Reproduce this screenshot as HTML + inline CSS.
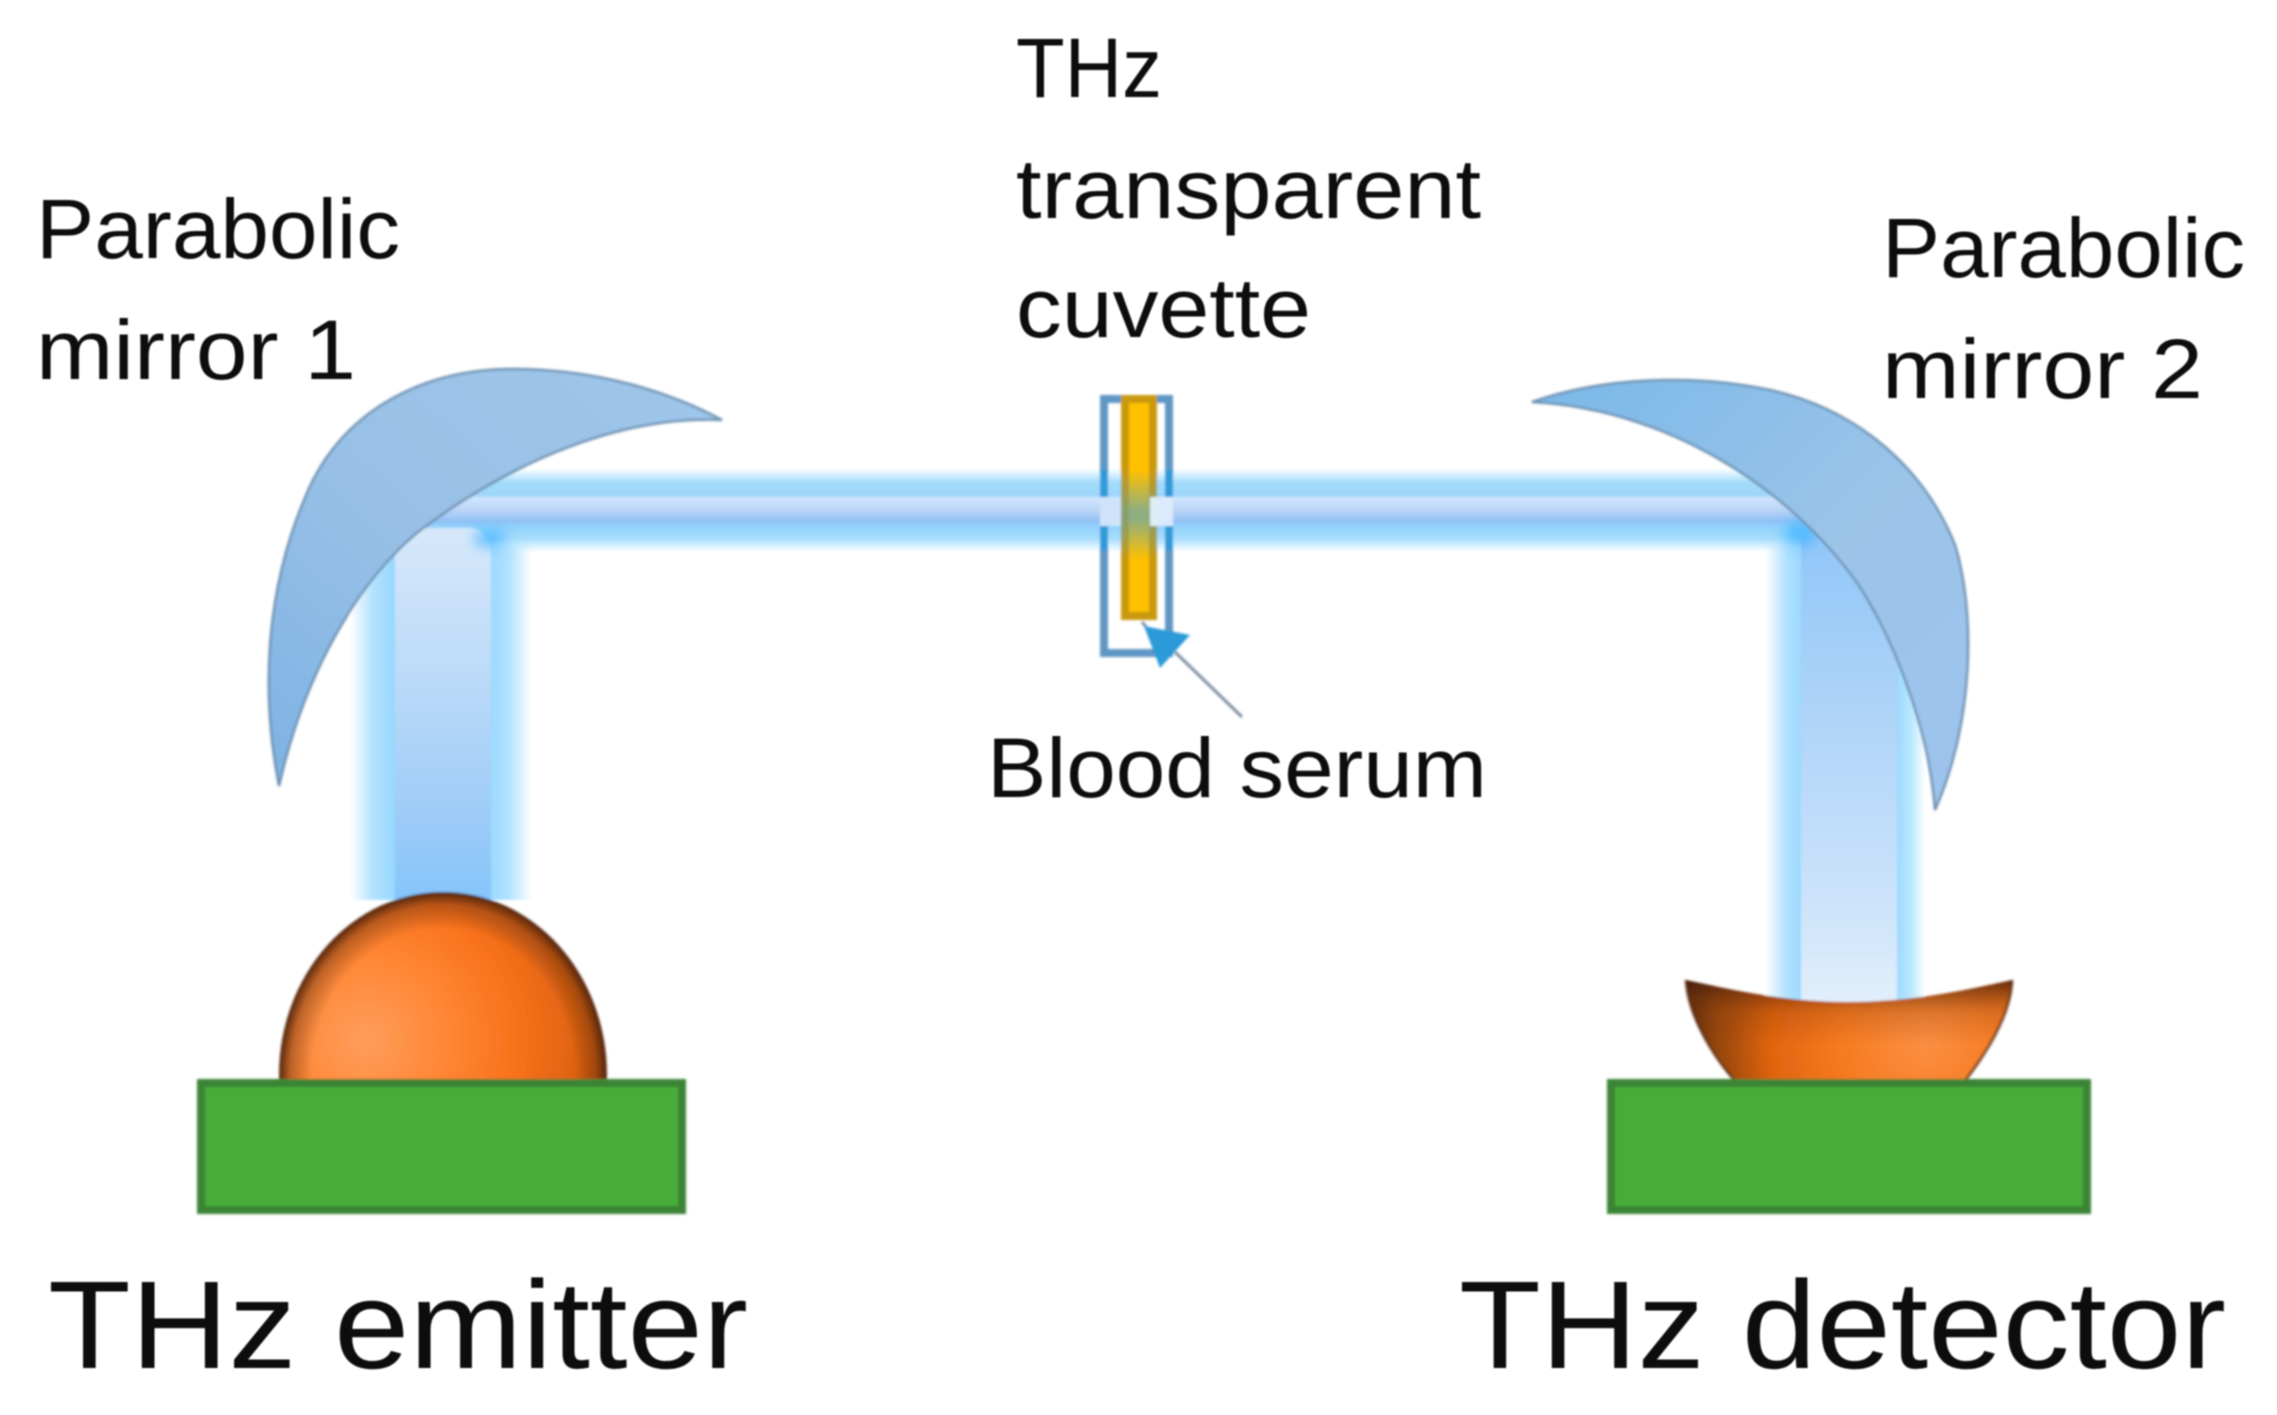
<!DOCTYPE html>
<html>
<head>
<meta charset="utf-8">
<style>
html,body{margin:0;padding:0;background:#fff;width:2277px;height:1415px;overflow:hidden}
svg{display:block}
text{font-family:"Liberation Sans",sans-serif;fill:#0e0e0e}
</style>
</head>
<body>
<svg width="2277" height="1415" viewBox="0 0 2277 1415" xmlns="http://www.w3.org/2000/svg">
<defs>
<filter id="soft" x="-5%" y="-5%" width="110%" height="110%"><feGaussianBlur stdDeviation="1.2"/></filter>
<filter id="softT" x="-5%" y="-20%" width="110%" height="140%"><feGaussianBlur stdDeviation="0.9"/></filter>
<filter id="glow" x="-100%" y="-100%" width="300%" height="300%"><feGaussianBlur stdDeviation="7"/></filter>
<linearGradient id="hb" x1="0" y1="468" x2="0" y2="552" gradientUnits="userSpaceOnUse">
<stop offset="0" stop-color="#bfe8ff" stop-opacity="0"/><stop offset=".1" stop-color="#bfe8ff" stop-opacity=".8"/><stop offset=".17" stop-color="#a3dbfb"/>
<stop offset=".34" stop-color="#9dd6fb"/><stop offset=".345" stop-color="#cfe7fc"/><stop offset=".5" stop-color="#bcd5f8"/>
<stop offset=".64" stop-color="#8fc0f4"/><stop offset=".68" stop-color="#8ed0fb"/><stop offset=".85" stop-color="#a9defd"/>
<stop offset=".93" stop-color="#bfe8ff" stop-opacity=".6"/><stop offset="1" stop-color="#bfe8ff" stop-opacity="0"/>
</linearGradient>
<linearGradient id="lvo" x1="350" y1="0" x2="532" y2="0" gradientUnits="userSpaceOnUse">
<stop offset="0" stop-color="#fff"/><stop offset=".12" stop-color="#b5e3ff"/><stop offset=".24" stop-color="#98d8ff"/>
<stop offset=".76" stop-color="#98d8ff"/><stop offset=".88" stop-color="#b5e3ff"/><stop offset="1" stop-color="#fff"/>
</linearGradient>
<linearGradient id="lvi" x1="0" y1="530" x2="0" y2="895" gradientUnits="userSpaceOnUse">
<stop offset="0" stop-color="#d6e8fa"/><stop offset=".4" stop-color="#bcdaf8"/><stop offset=".8" stop-color="#9ccbf8"/><stop offset="1" stop-color="#86c5fa"/>
</linearGradient>
<linearGradient id="rvo" x1="1765" y1="0" x2="1925" y2="0" gradientUnits="userSpaceOnUse">
<stop offset="0" stop-color="#fff"/><stop offset=".14" stop-color="#aee0ff"/><stop offset=".24" stop-color="#9ad8ff"/>
<stop offset=".82" stop-color="#9ad8ff"/><stop offset=".92" stop-color="#bce9ff"/><stop offset="1" stop-color="#fff"/>
</linearGradient>
<linearGradient id="rvi" x1="0" y1="530" x2="0" y2="1005" gradientUnits="userSpaceOnUse">
<stop offset="0" stop-color="#8fc6f8"/><stop offset=".4" stop-color="#b0d4f8"/><stop offset=".8" stop-color="#cde4fa"/><stop offset="1" stop-color="#e2effc"/>
</linearGradient>
<linearGradient id="m1" x1="0" y1="1" x2="1" y2="0">
<stop offset="0" stop-color="#7db2e4"/><stop offset=".45" stop-color="#98c0e6"/><stop offset="1" stop-color="#9fc6ea"/>
</linearGradient>
<linearGradient id="m2" x1="0" y1="0" x2="1" y2="1">
<stop offset="0" stop-color="#7ab8e8"/><stop offset=".55" stop-color="#9cc4e9"/><stop offset="1" stop-color="#9dc3ee"/>
</linearGradient>
<radialGradient id="sph" gradientUnits="userSpaceOnUse" cx="365" cy="1040" r="270">
<stop offset="0" stop-color="#ff9d5c"/><stop offset=".3" stop-color="#ff8735"/><stop offset=".55" stop-color="#f9721c"/>
<stop offset=".8" stop-color="#dd6210"/><stop offset="1" stop-color="#b04a08"/>
</radialGradient>
<radialGradient id="rim" cx=".5" cy=".5" r=".5">
<stop offset=".8" stop-color="#4a2008" stop-opacity="0"/><stop offset=".93" stop-color="#5a2a10" stop-opacity=".4"/><stop offset="1" stop-color="#4a2008" stop-opacity=".95"/>
</radialGradient>
<radialGradient id="det" gradientUnits="userSpaceOnUse" cx="1925" cy="1040" r="250">
<stop offset="0" stop-color="#fb8f42"/><stop offset=".35" stop-color="#f67a20"/><stop offset=".62" stop-color="#e0640f"/>
<stop offset=".85" stop-color="#8e430c"/><stop offset="1" stop-color="#3a1a08"/>
</radialGradient>
<linearGradient id="detT" x1="0" y1="980" x2="0" y2="1045" gradientUnits="userSpaceOnUse">
<stop offset="0" stop-color="#4a2008" stop-opacity=".85"/><stop offset=".5" stop-color="#8a3d0e" stop-opacity=".25"/><stop offset="1" stop-color="#8a3d0e" stop-opacity="0"/>
</linearGradient>
<linearGradient id="ser" x1="0" y1="470" x2="0" y2="560" gradientUnits="userSpaceOnUse">
<stop offset="0" stop-color="#ffc000"/><stop offset=".45" stop-color="#8fae80"/><stop offset=".55" stop-color="#8fae80"/><stop offset="1" stop-color="#ffc000"/>
</linearGradient>
<linearGradient id="serS" x1="0" y1="470" x2="0" y2="560" gradientUnits="userSpaceOnUse">
<stop offset="0" stop-color="#c99a10"/><stop offset=".45" stop-color="#88a070"/><stop offset=".55" stop-color="#88a070"/><stop offset="1" stop-color="#c99a10"/>
</linearGradient>
<clipPath id="above"><rect x="0" y="0" width="2277" height="1082"/></clipPath>
</defs>

<g filter="url(#soft)">
<!-- vertical beams -->
<rect x="350" y="505" width="182" height="395" fill="url(#lvo)"/>
<rect x="1765" y="505" width="160" height="505" fill="url(#rvo)"/>
<!-- horizontal beam -->
<rect x="400" y="468" width="1420" height="84" fill="url(#hb)"/>
<!-- inner cores -->
<path d="M395 548 Q395 528 420 528 L470 528 Q491 530 491 556 L491 900 L395 900 Z" fill="url(#lvi)"/>
<path d="M1801 526 L1897 526 L1897 1006 L1801 1006 Z" fill="url(#rvi)"/>
<ellipse cx="490" cy="538" rx="16" ry="8" fill="#4db8ff" filter="url(#glow)"/>
<ellipse cx="1800" cy="534" rx="16" ry="12" fill="#4db8ff" filter="url(#glow)"/>

<!-- mirrors -->
<path d="M279 786 C262 700 262 590 311 484 C350 405 430 368 516 369 C600 370 670 392 722 420 C610 415 500 470 418 532 C360 580 305 670 279 786 Z" fill="url(#m1)" stroke="#6f93b3" stroke-width="2.5"/>
<path d="M1532 402 C1600 378 1690 373 1770 390 C1860 410 1925 470 1955 545 C1975 610 1975 720 1935 810 C1930 740 1900 650 1860 587 C1800 500 1680 410 1532 402 Z" fill="url(#m2)" stroke="#6f93b3" stroke-width="2.5"/>

<!-- cuvette -->
<path d="M1104 497 L1104 399 L1169 399 L1169 497 M1169 526 L1169 653 L1104 653 L1104 526" fill="none" stroke="#5f97c4" stroke-width="8"/>
<path d="M1100 470 H1108 V497 H1100 Z M1165 470 H1173 V497 H1165 Z M1100 526 H1108 V550 H1100 Z M1165 526 H1173 V550 H1165 Z" fill="#2d9ad8"/>
<rect x="1100" y="497" width="21" height="29" fill="#cfe4fa"/>
<rect x="1157" y="497" width="16" height="29" fill="#dcebfb"/>
<rect x="1125" y="399" width="28" height="217" fill="url(#ser)" stroke="url(#serS)" stroke-width="8"/>
<rect x="1150" y="497" width="8" height="29" fill="#dfeef2"/>

<!-- arrow -->
<line x1="1242" y1="717" x2="1175" y2="652" stroke="#7f8f9f" stroke-width="3"/>
<line x1="1142" y1="622" x2="1152" y2="634" stroke="#7f8f9f" stroke-width="3"/>
<polygon points="1144,626 1190,635 1160,668" fill="#2a9ad8"/>

<!-- emitter -->
<g clip-path="url(#above)">
<ellipse cx="443" cy="1075" rx="163" ry="182" fill="url(#sph)"/>
<ellipse cx="443" cy="1075" rx="164" ry="183" fill="url(#rim)"/>
</g>
<!-- detector -->
<path d="M1686 980 C1725 988 1780 1002 1848 1002 C1916 1002 1975 988 2012 980 C2011 1015 1985 1055 1964 1082 L1736 1082 C1712 1055 1688 1015 1686 980 Z" fill="url(#det)"/>
<path d="M1686 980 C1725 988 1780 1002 1848 1002 C1916 1002 1975 988 2012 980 C2011 1015 1985 1055 1964 1082 L1736 1082 C1712 1055 1688 1015 1686 980 Z" fill="url(#detT)"/>
<path d="M1686 980 C1688 1015 1712 1055 1736 1082 M2012 980 C2011 1015 1985 1055 1964 1082" fill="none" stroke="#5a2a10" stroke-width="3" opacity=".75"/>

<!-- bases -->
<rect x="201" y="1083" width="481" height="127" fill="#47ad39" stroke="#3b8434" stroke-width="8"/>
<rect x="1611" y="1083" width="476" height="127" fill="#47ad39" stroke="#3b8434" stroke-width="8"/>
</g>

<g filter="url(#softT)">
<text x="36" y="258" font-size="84" textLength="364" lengthAdjust="spacingAndGlyphs">Parabolic</text>
<text x="36" y="379" font-size="84" textLength="320" lengthAdjust="spacingAndGlyphs">mirror 1</text>
<text x="1016" y="97" font-size="84" textLength="146" lengthAdjust="spacingAndGlyphs">THz</text>
<text x="1016" y="218" font-size="84" textLength="465" lengthAdjust="spacingAndGlyphs">transparent</text>
<text x="1016" y="337" font-size="84" textLength="295" lengthAdjust="spacingAndGlyphs">cuvette</text>
<text x="1882" y="277" font-size="84" textLength="363" lengthAdjust="spacingAndGlyphs">Parabolic</text>
<text x="1882" y="398" font-size="84" textLength="321" lengthAdjust="spacingAndGlyphs">mirror 2</text>
<text x="987" y="797" font-size="84" textLength="500" lengthAdjust="spacingAndGlyphs">Blood serum</text>
<text x="48" y="1368" font-size="125" textLength="700" lengthAdjust="spacingAndGlyphs">THz emitter</text>
<text x="1459" y="1368" font-size="125" textLength="767" lengthAdjust="spacingAndGlyphs">THz detector</text>
</g>
</svg>
</body>
</html>
